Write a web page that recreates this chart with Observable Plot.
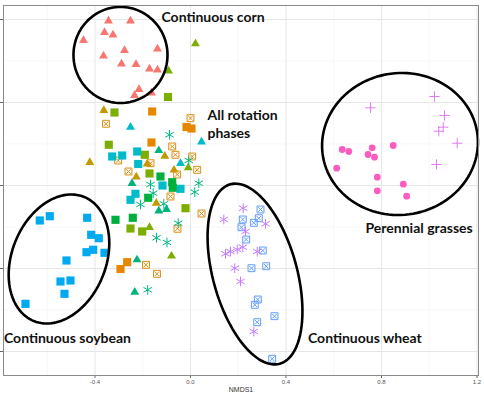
<!DOCTYPE html>
<html><head><meta charset="utf-8">
<script src="https://cdn.jsdelivr.net/npm/d3@7"></script>
<script src="https://cdn.jsdelivr.net/npm/@observablehq/plot@0.6"></script>
<style>html,body{margin:0;padding:0;background:#fff}</style>
</head><body><div id="chart"></div>
<script>
// ---- axes ----
const xTicks = [-0.4, 0, 0.4, 0.8, 1.2];
const xMinor = [-0.6, -0.2, 0.2, 0.6, 1.0];
const yTicks = [-0.4, -0.2, 0, 0.2, 0.4];
const yMinor = [-0.3, -0.1, 0.1, 0.3];
const xLabel = ["NMDS1"];

// ---- data (NMDS1, NMDS2) ----
const cornTriangles = [[-0.3435,0.3964],[-0.2513,0.3964],[-0.3602,0.3687],[-0.3246,0.3627],[-0.4482,0.3494],[-0.1382,0.3289],[-0.2764,0.3253],[-0.3644,0.3120],[-0.2890,0.2928],[-0.2283,0.2916],[-0.1717,0.2807],[-0.1382,0.2783],[-0.2157,0.2313],[-0.2346,0.2169],[-0.1634,0.2229]];
const grassCircles = [[0.6354,0.0867],[0.6630,0.0819],[0.7611,0.0908],[0.7435,0.0747],[0.7707,0.0682],[0.8490,0.0964],[0.6124,0.0417],[0.7824,0.0200],[0.8913,0.0031],[0.7824,-0.0128],[0.9055,-0.0258]];
const grassPlus = [[1.0220,0.2145],[0.7539,0.1872],[1.0639,0.1687],[1.0584,0.1405],[1.0400,0.1308],[1.1171,0.1019],[1.0304,0.0506]];
const soySquares = [[-0.6312,-0.0843],[-0.5893,-0.0740],[-0.4327,-0.0778],[-0.4159,-0.1188],[-0.3841,-0.1270],[-0.4356,-0.1607],[-0.4075,-0.1549],[-0.3602,-0.1622],[-0.5194,-0.1807],[-0.5445,-0.2313],[-0.5026,-0.2289],[-0.5278,-0.2610],[-0.6911,-0.2851]];
const wheatAsterisks = [[0.2207,-0.0547],[0.1395,-0.0819],[0.3141,-0.0923],[0.2304,-0.1108],[0.1466,-0.1646],[0.1675,-0.1590],[0.1956,-0.1542],[0.2191,-0.1487],[0.2794,-0.1590],[0.1855,-0.1993],[0.2094,-0.2313],[0.2651,-0.3518]];
const wheatBoxX = [[0.2932,-0.0578],[0.2191,-0.0819],[0.2861,-0.0788],[0.2651,-0.0899],[0.2136,-0.1005],[0.2333,-0.1301],[0.3028,-0.1566],[0.2555,-0.1993],[0.3171,-0.1945],[0.2819,-0.2747],[0.2693,-0.2875],[0.3518,-0.3149],[0.2794,-0.3294],[0.3422,-0.4176]];
const rotGoldTriangles = [[-0.3631,0.1807],[-0.4218,0.0554],[-0.1076,0.0706],[-0.1814,0.0518],[-0.0691,0.0373],[-0.2270,0.0205],[-0.1432,-0.0427]];
const rotOliveTriangles = [[0.0209,0.3414],[-0.0921,0.2759],[-0.1717,-0.1012],[-0.0796,-0.1699],[-0.0096,0.0427]];
const rotOliveSquares = [[-0.0942,0.2133],[-0.3183,0.1759],[-0.3422,0.0981],[-0.1914,0.0740],[-0.1717,0.0289],[-0.0209,-0.0547],[-0.2513,-0.1036],[-0.2023,-0.1108]];
const rotOrangeSquares = [[-0.1604,0.1783],[-0.0168,0.1410],[0.0042,0.1373],[-0.1634,0.1036],[-0.2932,-0.2012],[-0.2651,-0.1848]];
const rotBoxX = [[-0.3539,0.1487],[0.0000,0.1622],[-0.3028,0.0602],[-0.0766,0.0940],[-0.0628,0.0740],[0.0071,0.0699],[-0.1675,0.0537],[-0.2597,0.0337],[-0.0557,0.0265],[0.0281,0.0378],[-0.0838,-0.0265],[0.0461,-0.0675],[-0.0545,-0.1043],[-0.1864,-0.1911],[-0.1403,-0.2128]];
const rotCyanTriangles = [[-0.2513,0.1405],[0.0461,0.1048],[-0.0419,0.0530]];
const rotTealTriangles = [[-0.1328,0.0843],[-0.2450,0.0048],[-0.1328,-0.0614],[-0.1005,-0.0578],[-0.2241,-0.1790],[-0.2333,-0.2571]];
const rotCyanSquares = [[-0.3280,0.0699],[-0.2861,0.0723],[-0.2232,0.0819],[-0.2191,0.0518],[-0.1173,0.0000],[-0.0419,-0.0080],[-0.2304,-0.0200],[-0.2513,-0.0345]];
const rotGreenSquares = [[-0.1257,0.0217],[-0.0766,0.0080],[-0.0741,-0.0055],[-0.1772,-0.0296],[-0.3141,-0.0827],[-0.2417,-0.0778]];
const rotTealAsterisks = [[-0.0880,0.1222],[-0.0071,0.0602],[-0.1675,0.0024],[0.0348,0.0055],[0.0180,-0.0161],[-0.1562,-0.0186],[-0.2094,-0.0458],[-0.1118,-0.0441],[-0.0515,-0.0908],[-0.1424,-0.1260],[-0.0984,-0.1373],[-0.1793,-0.2513]];

// ---- group ellipses: centre and two conjugate semi-axis vectors (data units) ----
const ellipses = [
  {name: "corn",  cx: -0.2932, cy: 0.3145, ax: 0.1969, ay: 0, bx: 0, by: 0.1157},
  {name: "grass", cx: 0.8775, cy: 0.1000, ax: 0.3242, ay: 0.02405, bx: 0.0380, by: -0.1694},
  {name: "soy",   cx: -0.5508, cy: -0.1771, ax: 0.1051, ay: 0.1496, bx: 0.1826, by: -0.0424},
  {name: "wheat", cx: 0.2702, cy: -0.2133, ax: -0.1035, ay: 0.2161, bx: 0.1696, by: 0.0270}
];

// ---- annotations ----
const labels = [
  {text: "Continuous corn", x: -0.1214, y: 0.4048},
  {text: "All rotation", x: 0.0712, y: 0.1687},
  {text: "phases", x: 0.0712, y: 0.1241},
  {text: "Perennial grasses", x: 0.7330, y: -0.1036},
  {text: "Continuous soybean", x: -0.7812, y: -0.3687},
  {text: "Continuous wheat", x: 0.4921, y: -0.3675}
];

const toRows = pts => pts.map(([x, y]) => ({x, y}));
const ellipsePts = ellipses.flatMap(e => d3.range(0, 121).map(i => {
  const t = i / 120 * 2 * Math.PI;
  return {name: e.name, x: e.cx + e.ax * Math.cos(t) + e.bx * Math.sin(t), y: e.cy + e.ay * Math.cos(t) + e.by * Math.sin(t)};
}));

const filled = (pts, symbol, color, r) => Plot.dot(toRows(pts), {x: "x", y: "y", symbol, fill: color, stroke: "none", r});
const stroked = (pts, symbol, color, r, sw = 1) => Plot.dot(toRows(pts), {x: "x", y: "y", symbol, fill: "none", stroke: color, strokeWidth: sw, r});
const boxX = (pts, color) => [stroked(pts, "square2", color, 4.4, 1), stroked(pts, "times", color, 2.2, 1)];

const chart = Plot.plot({
  width: 484, height: 398,
  marginTop: 5, marginBottom: 23, marginLeft: 3, marginRight: 6,
  x: {domain: [-0.7832, 1.2063]},
  y: {domain: [-0.4578, 0.4337]},
  style: {fontFamily: "Liberation Sans, Arial, sans-serif", background: "#fff"},
  marks: [
    Plot.gridX(xMinor, {stroke: "#f3f3f3", strokeOpacity: 1, strokeWidth: 0.7}),
    Plot.gridY(yMinor, {stroke: "#f3f3f3", strokeOpacity: 1, strokeWidth: 0.7}),
    Plot.gridX(xTicks, {stroke: "#e6e6e6", strokeOpacity: 1, strokeWidth: 1}),
    Plot.gridY(yTicks, {stroke: "#e6e6e6", strokeOpacity: 1, strokeWidth: 1}),
    Plot.axisX(xTicks, {tickSize: 3, tickPadding: 1.5, fontSize: 6, stroke: "#666", fill: "#555", label: null, tickFormat: d => d.toFixed(1)}),
    Plot.axisY(yTicks, {tickSize: 3, stroke: "#666", label: null, tickFormat: () => ""}),
    Plot.text(xLabel, {frameAnchor: "bottom", dy: 16, fontSize: 7, fill: "#333"}),
    // rotation phases
    filled(rotGoldTriangles, "triangle", "#C29A00", 3.3),
    filled(rotOliveTriangles, "triangle", "#7CAE00", 3.3),
    filled(rotOliveSquares, "square", "#7CAE00", 4.6),
    filled(rotOrangeSquares, "square", "#E58700", 4.6),
    ...boxX(rotBoxX, "#DC8F10"),
    filled(rotCyanSquares, "square", "#00BCCB", 4.6),
    filled(rotGreenSquares, "square", "#00B03C", 4.6),
    filled(rotTealTriangles, "triangle", "#00B47C", 3.3),
    filled(rotCyanTriangles, "triangle", "#00BCCB", 3.3),
    stroked(rotTealAsterisks, "asterisk", "#00B884", 4.6, 1),
    // continuous systems
    filled(cornTriangles, "triangle", "#F8766D", 3.3),
    filled(soySquares, "square", "#00A9F0", 4.6),
    ...boxX(wheatBoxX, "#619CFF"),
    stroked(wheatAsterisks, "asterisk", "#C77CFF", 4.6, 1),
    filled(grassCircles, "circle", "#FB5CBF", 3.4),
    stroked(grassPlus, "plus", "#E07BEF", 3.4, 1),
    // ellipses
    Plot.line(ellipsePts, {x: "x", y: "y", z: "name", stroke: "#000", strokeWidth: 2.6}),
    Plot.frame({stroke: "#8a8a8a", strokeWidth: 1}),
    Plot.text(labels, {x: "x", y: "y", text: "text", textAnchor: "start", fontSize: 14, fontWeight: "bold", fontFamily: "Lato", fill: "#111"})
  ]
});
document.getElementById("chart").appendChild(chart);
</script>
</body></html>
